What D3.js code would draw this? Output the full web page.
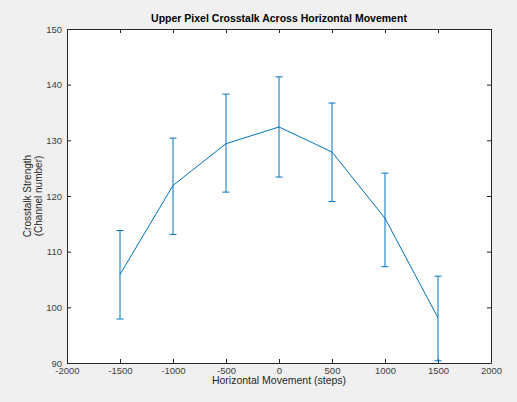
<!DOCTYPE html>
<html>
<head>
<meta charset="utf-8">
<script src="https://cdn.jsdelivr.net/npm/d3@7"></script>
<style>
  body { margin: 0; background: #f0f0f0; }
  svg { display: block; font-family: "Liberation Sans", Arial, sans-serif; }
</style>
</head>
<body>
<div id="chart"></div>
<script>
// data
const positions = [-1500, -1000, -500, 0, 500, 1000, 1500];
const means = [105.9, 121.9, 129.4, 132.4, 127.9, 116.0, 98.1];
const lower = [97.9, 113.1, 120.7, 123.4, 119.0, 107.3, 90.4];
const upper = [113.8, 130.4, 138.3, 141.4, 136.7, 124.1, 105.6];
const xTicks = [-2000, -1500, -1000, -500, 0, 500, 1000, 1500, 2000];
const yTicks = [90, 100, 110, 120, 130, 140, 150];

const width = 517, height = 402;
const margins = { top: 29, right: 26, bottom: 39, left: 67 };
const innerWidth = width - margins.left - margins.right;
const innerHeight = height - margins.top - margins.bottom;
const lineColor = "#0072bd";

const svg = d3.select("#chart").append("svg")
  .attr("width", width)
  .attr("height", height);

svg.append("rect").attr("width", width).attr("height", height).attr("fill", "#f0f0f0");

const mainG = svg.append("g")
  .attr("transform", `translate(${margins.left},${margins.top})`);

const x = d3.scaleLinear().domain([-2000, 2000]).range([0, innerWidth]);
const y = d3.scaleLinear().domain([90, 150]).range([innerHeight, 0]);

mainG.append("rect")
  .attr("width", innerWidth)
  .attr("height", innerHeight)
  .attr("fill", "#fff");

const data = positions.map((p, i) => ({ p, m: means[i], lo: lower[i], hi: upper[i] }));

// axes (MATLAB style, ticks inward, box on)
const tickLen = 4;
const fmt = (d) => String(d);
const styleAxis = (g) => {
  g.select(".domain").attr("stroke", "#262626");
  g.selectAll(".tick line").attr("stroke", "#262626");
  g.selectAll(".tick text").attr("fill", "#404040").attr("font-size", "9.5px");
};
const noLabels = (g) => g.selectAll(".tick text").remove();

mainG.append("g")
  .attr("transform", `translate(0,${innerHeight})`)
  .call(d3.axisBottom(x).tickValues(xTicks).tickFormat(fmt).tickSizeInner(-tickLen).tickSizeOuter(0).tickPadding(4))
  .call(styleAxis);

mainG.append("g")
  .call(d3.axisTop(x).tickValues(xTicks).tickSizeInner(-tickLen).tickSizeOuter(0))
  .call(styleAxis)
  .call(noLabels);

mainG.append("g")
  .call(d3.axisLeft(y).tickValues(yTicks).tickFormat(fmt).tickSizeInner(-tickLen).tickSizeOuter(0).tickPadding(5))
  .call(styleAxis);

mainG.append("g")
  .attr("transform", `translate(${innerWidth},0)`)
  .call(d3.axisRight(y).tickValues(yTicks).tickSizeInner(-tickLen).tickSizeOuter(0))
  .call(styleAxis)
  .call(noLabels);

// error bars
const capW = 3.5;
const errG = mainG.append("g").attr("stroke", lineColor).attr("stroke-width", 1);
errG.selectAll("line.err")
  .data(data)
  .join("line")
  .attr("class", "err")
  .attr("x1", (d) => x(d.p)).attr("x2", (d) => x(d.p))
  .attr("y1", (d) => y(d.lo)).attr("y2", (d) => y(d.hi));
errG.selectAll("line.capLo")
  .data(data)
  .join("line")
  .attr("class", "capLo")
  .attr("x1", (d) => x(d.p) - capW).attr("x2", (d) => x(d.p) + capW)
  .attr("y1", (d) => y(d.lo)).attr("y2", (d) => y(d.lo));
errG.selectAll("line.capHi")
  .data(data)
  .join("line")
  .attr("class", "capHi")
  .attr("x1", (d) => x(d.p) - capW).attr("x2", (d) => x(d.p) + capW)
  .attr("y1", (d) => y(d.hi)).attr("y2", (d) => y(d.hi));

mainG.append("path")
  .datum(data)
  .attr("fill", "none")
  .attr("stroke", lineColor)
  .attr("stroke-width", 1)
  .attr("d", d3.line().x((d) => x(d.p)).y((d) => y(d.m)));

// title & labels
svg.append("text")
  .attr("x", margins.left + innerWidth / 2)
  .attr("y", 22)
  .attr("text-anchor", "middle")
  .attr("font-size", "10.5px")
  .attr("font-weight", "bold")
  .attr("fill", "#000")
  .text("Upper Pixel Crosstalk Across Horizontal Movement");

svg.append("text")
  .attr("x", margins.left + innerWidth / 2)
  .attr("y", 384)
  .attr("text-anchor", "middle")
  .attr("font-size", "10.5px")
  .attr("fill", "#262626")
  .text("Horizontal Movement (steps)");

const yLab = svg.append("text")
  .attr("transform", `translate(31,${margins.top + innerHeight / 2}) rotate(-90)`)
  .attr("text-anchor", "middle")
  .attr("font-size", "10px")
  .attr("fill", "#262626");
yLab.append("tspan").attr("x", 0).attr("dy", 0).text("Crosstalk Strength");
yLab.append("tspan").attr("x", 0).attr("dy", "1.05em").text("(Channel number)");
</script>
</body>
</html>
